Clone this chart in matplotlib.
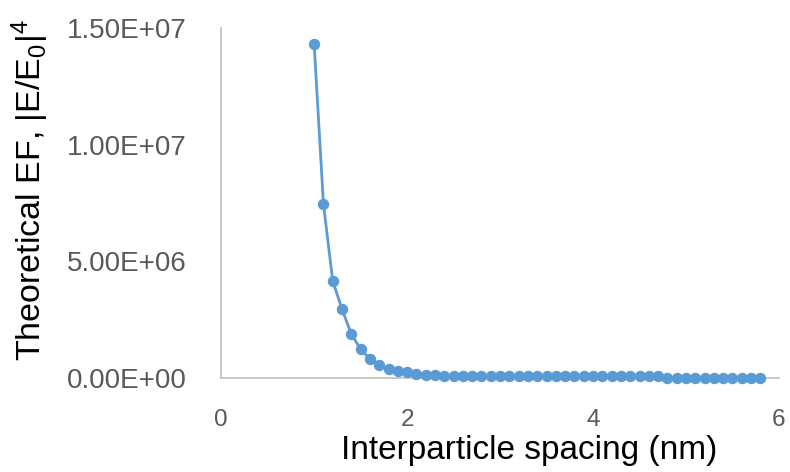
import matplotlib
matplotlib.use("Agg")
import matplotlib.pyplot as plt

spacing = [1.0, 1.1, 1.2, 1.3, 1.4, 1.5, 1.6, 1.7, 1.8, 1.9,
           2.0, 2.1, 2.2, 2.3, 2.4, 2.5, 2.6, 2.7, 2.8, 2.9,
           3.0, 3.1, 3.2, 3.3, 3.4, 3.5, 3.6, 3.7, 3.8, 3.9,
           4.0, 4.1, 4.2, 4.3, 4.4, 4.5, 4.6, 4.7, 4.8, 4.9,
           5.0, 5.1, 5.2, 5.3, 5.4, 5.5, 5.6, 5.7, 5.8]
ef = [1.43e7, 7.45e6, 4.15e6, 2.95e6, 1.88e6, 1.24e6, 8.2e5, 5.6e5, 3.9e5, 3.2e5,
      2.6e5, 1.8e5, 1.5e5, 1.2e5, 1.1e5, 1.0e5, 9.0e4, 8.5e4, 8.0e4, 8.0e4,
      8.0e4, 8.0e4, 8.0e4, 8.0e4, 8.0e4, 8.0e4, 8.0e4, 8.0e4, 8.0e4, 8.0e4,
      8.0e4, 8.0e4, 8.0e4, 8.0e4, 8.0e4, 8.0e4, 8.0e4, 8.0e4, 1.0e4, 1.0e4,
      1.0e4, 1.0e4, 1.0e4, 1.0e4, 1.0e4, 1.0e4, 1.0e4, 1.0e4, 1.0e4]

xticks = [0, 2, 4, 6]
yticks = [0, 5e6, 1e7, 1.5e7]
ytick_labels = ['0.00E+00', '5.00E+06', '1.00E+07', '1.50E+07']

plt.rcParams['font.family'] = ['Liberation Sans', 'DejaVu Sans']
plt.rcParams['mathtext.default'] = 'regular'

blue = '#5B9BD5'
fig = plt.figure(figsize=(7.9, 4.72), dpi=100)
ax = fig.add_axes([0.280, 0.199, 0.706, 0.742])

ax.plot(spacing, ef, color=blue, lw=2.0, marker='o', markersize=7.2,
        clip_on=False, zorder=3)

ax.set_xlim(0, 6)
ax.set_ylim(0, 1.5e7)
ax.set_xticks(xticks)
ax.set_xticklabels([str(t) for t in xticks])
ax.set_yticks(yticks)
ax.set_yticklabels(ytick_labels)
ax.tick_params(length=0, labelcolor='#595959')
ax.tick_params(axis='x', pad=22, labelsize=17.5)
ax.tick_params(axis='y', pad=25, labelsize=20)

for s in ['top', 'right']:
    ax.spines[s].set_visible(False)
for s in ['left', 'bottom']:
    ax.spines[s].set_color('#BFBFBF')
    ax.spines[s].set_linewidth(1.2)

ax.set_xlabel('Interparticle spacing (nm)', fontsize=24)
ax.set_ylabel(r'Theoretical EF, |E/E$_0$|$^4$', fontsize=24.5)
ax.xaxis.set_label_coords(0.553, -0.162)
ax.yaxis.set_label_coords(-0.305, 0.537)

fig.savefig('out.png', dpi=100)
